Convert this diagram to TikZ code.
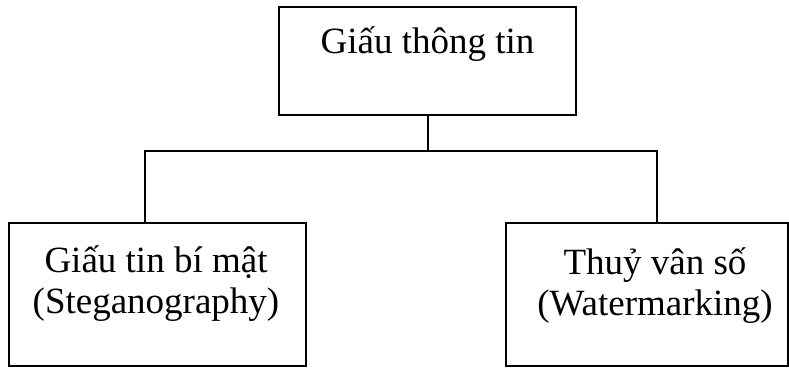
\documentclass[tikz,border=0pt]{standalone}
\usepackage{fontspec}
\setmainfont{Liberation Serif}
\begin{document}
\begin{tikzpicture}[x=1pt,y=-1pt,
  box/.style={draw, line width=2pt, rectangle, inner sep=0pt},
  lbl/.style={font=\fontsize{37}{41}\selectfont, align=center, inner sep=0pt, anchor=base},
  link/.style={line width=2pt}]
\useasboundingbox (0,0) rectangle (789,367);
\node[box, minimum width=297pt, minimum height=108pt] (top) at (427.5,61) {};
\node[box, minimum width=296.7pt, minimum height=143pt] (left) at (157.6,294.3) {};
\node[box, minimum width=282pt, minimum height=143pt] (right) at (646.5,294.3) {};
\node[lbl] (toptext) at (427.5,53) {Giấu thông tin};
\node[lbl] (lefttext) at (156,313) {Giấu tin bí mật\\(Steganography)};
\node[lbl] (righttext) at (655,315) {Thuỷ vân số\\(Watermarking)};
\coordinate (jl) at (144.7,151);
\coordinate (jr) at (656.7,151);
\draw[link] (left.north -| jl) -- (jl) -- (jr) -- (right.north -| jr);
\draw[link] (top.south) -- (top.south |- jl);
\end{tikzpicture}
\end{document}
